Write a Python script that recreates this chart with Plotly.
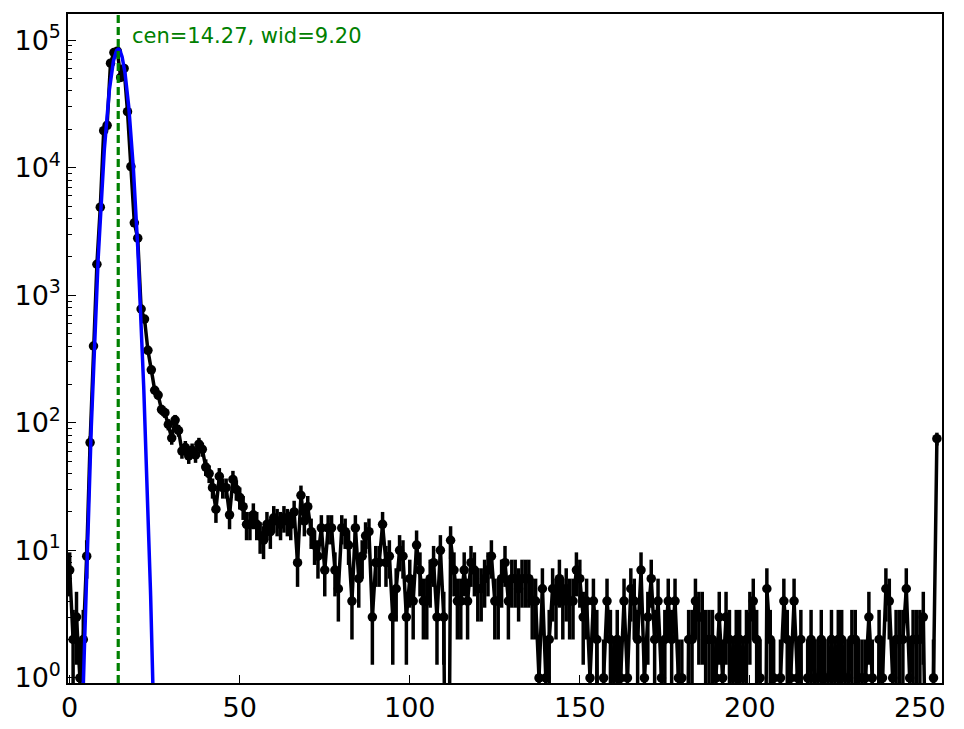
import numpy as np
import plotly.graph_objects as go

# ---- data ----
bins = list(range(256))
counts = [
    7, 2, 3, 1, 2, 9, 70, 400, 1750, 4900,                      # 0-9
    19500, 21500, 66000, 80000, 82000, 51000, 60000, 27500, 10200, 3700,  # 10-19
    2800, 780, 650, 370, 260, 180, 165, 127, 120, 97,           # 20-29
    76, 105, 87, 60, 64, 55, 61, 56, 68, 62,                    # 30-39
    45, 40, 31, 21, 38, 31, 31, 19, 36, 30,                     # 40-49
    26, 22, 16, 16, 19, 16, 13, 12, 16, 14,                     # 50-59
    18, 17, 16, 18, 17, 16, 20, 8, 27, 17,                      # 60-69
    22, 14, 11, 9, 15, 7, 15, 15, 7, 5,                         # 70-79
    15, 14, 11, 4, 15, 6, 9, 13, 14, 3,                         # 80-89
    8, 8, 16, 8, 9, 3, 5, 10, 9, 3,                             # 90-99
    6, 4, 11, 7, 4, 4, 6, 8, 3, 10,                             # 100-109
    3, 0, 12, 7, 4, 4, 7, 4, 8, 7,                              # 110-119
    5, 5, 6, 7, 9, 4, 4, 6, 8, 4,                               # 120-129
    6, 6, 5, 6, 6, 6, 4, 4, 1, 5,                               # 130-139
    1, 2, 5, 4, 6, 4, 5, 4, 4, 7,                               # 140-149
    6, 3, 4, 1, 4, 2, 0, 1, 4, 2,                               # 150-159
    1, 2, 1, 4, 1, 5, 4, 2, 7, 1,                               # 160-169
    3, 6, 2, 4, 1, 2, 4, 2, 4, 1,                               # 170-179
    1, 0, 2, 2, 4, 3, 3, 2, 2, 2,                               # 180-189
    1, 3, 1, 3, 2, 1, 2, 2, 1, 2,                               # 190-199
    3, 4, 2, 1, 0, 5, 2, 1, 0, 1,                               # 200-209
    4, 2, 1, 4, 1, 2, 0, 1, 2, 1,                               # 210-219
    1, 2, 1, 1, 2, 1, 2, 2, 1, 1,                               # 220-229
    2, 2, 1, 1, 1, 3, 1, 0, 2, 1,                               # 230-239
    5, 4, 1, 2, 2, 2, 5, 1, 2, 2,                               # 240-249
    2, 3, 0, 0, 1, 75,                                          # 250-255
]

# fit parameters shown on the chart
fit_cen = 14.27
fit_wid = 9.20
fit_amp = 85000
label_text = "cen=14.27, wid=9.20"

x_tick_vals = [0, 50, 100, 150, 200, 250]
y_tick_vals = [1, 10, 100, 1000, 10000, 100000]
y_tick_text = ["10<sup>0</sup>", "10<sup>1</sup>", "10<sup>2</sup>",
               "10<sup>3</sup>", "10<sup>4</sup>", "10<sup>5</sup>"]
y_minor_vals = [m * 10 ** e for e in range(0, 6) for m in range(2, 10)]

# ---- build figure ----
c = np.array(counts, dtype=float)
err = np.sqrt(c)
floor = 1e-3                       # zero counts drop off the log axis
y_plot = np.where(c > 0, c, floor)
err_minus = np.where(c > 0, np.minimum(err, c - floor), 0)
err_plus = np.where(c > 0, err, 0)

xf = np.linspace(0, 255, 5101)
yf = fit_amp * np.exp(-(xf - fit_cen) ** 2 / fit_wid)
yf = np.where(yf > 1e-3, yf, np.nan)

fig = go.Figure()
fig.add_trace(go.Scatter(
    x=bins, y=y_plot, mode="lines+markers",
    line=dict(color="black", width=3.5),
    marker=dict(color="black", size=9.5),
    error_y=dict(type="data", array=err_plus, arrayminus=err_minus,
                 symmetric=False, color="black", thickness=3.5, width=0),
    showlegend=False,
))
fig.add_trace(go.Scatter(
    x=xf, y=yf, mode="lines",
    line=dict(color="#0000ff", width=3.5),
    showlegend=False,
))

fig.add_shape(type="line", xref="x", yref="paper",
              x0=fit_cen, x1=fit_cen, y0=0, y1=1,
              line=dict(color="#008000", width=3.2, dash="8px,4px"))

fig.add_annotation(text=label_text, xref="paper", yref="paper",
                   x=0.071, y=0.967, xanchor="left", yanchor="middle",
                   showarrow=False,
                   font=dict(family="DejaVu Sans", size=21, color="#008000"))

# page body has an 8px margin: size the figure so the plot area lands
# where the reference has it
fig.update_layout(
    width=956, height=721,
    margin=dict(l=60, r=22, t=6, b=46, autoexpand=False),
    paper_bgcolor="white", plot_bgcolor="white",
    font=dict(family="DejaVu Sans", size=27, color="black"),
)
fig.update_xaxes(
    range=[-0.5, 256.5], tickvals=x_tick_vals, automargin=False,
    ticks="inside", ticklen=8, tickwidth=1.2, tickcolor="black",
    tickfont=dict(family="DejaVu Sans", size=27, color="black"),
    showline=True, linecolor="black", linewidth=1.5, mirror=True,
    showgrid=False, zeroline=False,
)
fig.update_yaxes(
    type="log", range=[-0.04, 5.205], automargin=False,
    tickvals=y_tick_vals, ticktext=y_tick_text,
    ticks="inside", ticklen=8, tickwidth=1.2, tickcolor="black",
    tickfont=dict(family="DejaVu Sans", size=27, color="black"),
    minor=dict(tickvals=y_minor_vals, ticks="inside", ticklen=4,
               tickwidth=1, tickcolor="black", showgrid=False),
    showline=True, linecolor="black", linewidth=1.5, mirror=True,
    showgrid=False, zeroline=False,
)

fig.write_html("out.html")
